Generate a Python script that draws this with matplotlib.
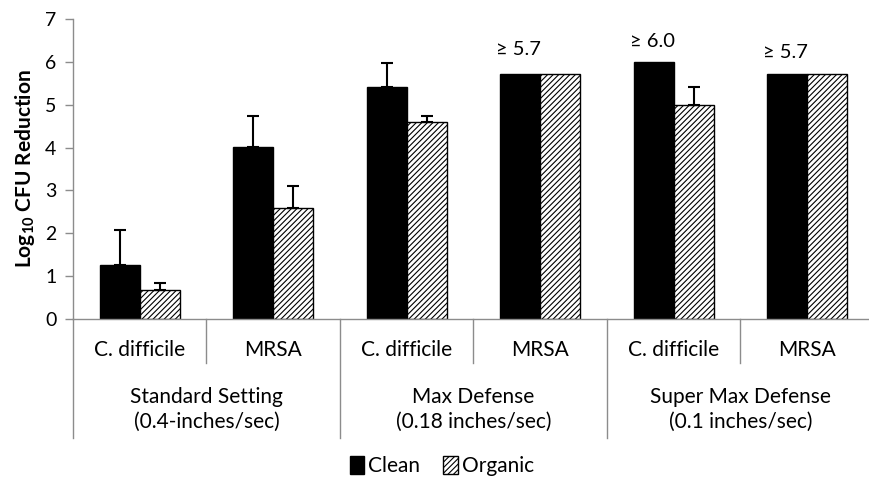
import matplotlib
matplotlib.use("Agg")
import matplotlib.pyplot as plt
from matplotlib.lines import Line2D
from matplotlib.patches import Patch
from matplotlib.transforms import blended_transform_factory
import numpy as np

plt.rcParams['font.family'] = ['Lato', 'DejaVu Sans']
plt.rcParams['mathtext.fontset'] = 'custom'
plt.rcParams['mathtext.rm'] = 'Lato'
plt.rcParams['mathtext.bf'] = 'Lato:bold'
plt.rcParams['hatch.linewidth'] = 0.8

species = ["C. difficile", "MRSA", "C. difficile", "MRSA", "C. difficile", "MRSA"]
groups = ["Standard Setting\n(0.4-inches/sec)", "Max Defense\n(0.18 inches/sec)",
          "Super Max Defense\n(0.1 inches/sec)"]
clean = [1.25, 4.02, 5.42, 5.71, 6.00, 5.71]
clean_err = [0.82, 0.72, 0.56, 0.0, 0.0, 0.0]
organic = [0.67, 2.60, 4.59, 5.71, 4.99, 5.71]
organic_err = [0.17, 0.50, 0.14, 0.0, 0.43, 0.0]
annot_idx = [3, 4, 5]
annot_text = ["≥ 5.7", "≥ 6.0", "≥ 5.7"]
annot_y = [6.17, 6.34, 6.09]

gray = "#8c8c8c"
fig = plt.figure(figsize=(8.7, 4.79), dpi=100)
ax = fig.add_axes([73/870, 1-319/479, 801/870, 300/479])

x = np.arange(len(species))
w = 0.3
ax.bar(x - w/2, clean, w, color="black", edgecolor="black", linewidth=1, label="Clean", zorder=2)
ax.bar(x + w/2, organic, w, color="white", edgecolor="black", linewidth=1, hatch="//////",
       label="Organic", zorder=2)
ce = np.array(clean_err)
oe = np.array(organic_err)
m = ce > 0
ax.errorbar((x - w/2)[m], np.array(clean)[m], yerr=[np.zeros(m.sum()), ce[m]], fmt="none",
            ecolor="black", elinewidth=1.5, capsize=4.5, capthick=1.5, zorder=3)
m = oe > 0
ax.errorbar((x + w/2)[m], np.array(organic)[m], yerr=[np.zeros(m.sum()), oe[m]], fmt="none",
            ecolor="black", elinewidth=1.5, capsize=4.5, capthick=1.5, zorder=3)

for i, txt, yy in zip(annot_idx, annot_text, annot_y):
    ax.text(i - 0.16, yy, txt, ha="center", va="baseline", fontsize=14.5)

ax.set_xlim(-0.5, len(species) - 0.5)
ax.set_ylim(0, 7)
ax.set_yticks(range(0, 8))
ax.tick_params(axis="y", labelsize=14, length=6, color=gray, width=1, pad=6)
ax.set_xticks([])
for s in ["top", "right"]:
    ax.spines[s].set_visible(False)
for s in ["left", "bottom"]:
    ax.spines[s].set_color(gray)
    ax.spines[s].set_linewidth(1)

ax.set_ylabel(r"Log$_{\mathbf{10}}$ CFU Reduction", fontsize=15, fontweight="bold", labelpad=6)

# multi-level category axis
tr = blended_transform_factory(ax.transData, fig.transFigure)
y0 = 1 - 319/479
y_short = 1 - 363/479
y_long = 1 - 438/479
for i, s in enumerate(species):
    ax.text(i, 1 - 350/479, s, transform=tr, ha="center", va="center", fontsize=15)
for b in range(len(species) + 1):
    xb = b - 0.5
    yend = y_long if b % 2 == 0 else y_short
    fig.add_artist(Line2D([xb, xb], [y0, yend], transform=tr, color=gray, lw=1, clip_on=False))
for g, name in enumerate(groups):
    ax.text(2*g + 0.5, 1 - 409/479, name, transform=tr, ha="center", va="center",
            fontsize=15, linespacing=1.3)

handles = [Patch(facecolor="black", edgecolor="black"),
           Patch(facecolor="white", edgecolor="black", hatch="//////")]
fig.legend(handles, ["Clean", "Organic"], loc="center", bbox_to_anchor=(442/870, 1 - 466/479),
           ncol=2, frameon=False, fontsize=15, handlelength=0.7, handleheight=1.0,
           handletextpad=0.2, columnspacing=1.1)

fig.savefig("out.png", dpi=100)
